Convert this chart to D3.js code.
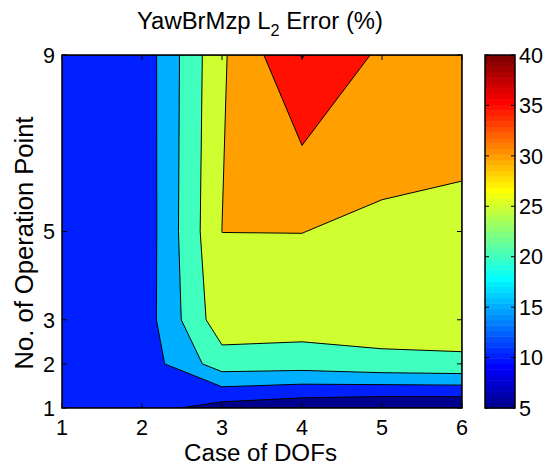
<!DOCTYPE html>
<html>
<head>
<meta charset="utf-8">
<script src="https://cdn.jsdelivr.net/npm/d3@7"></script>
<style>
  html, body { margin: 0; padding: 0; background: #fff; }
  svg { display: block; font-family: "Liberation Sans", Arial, Helvetica, sans-serif; }
</style>
</head>
<body>
<svg id="chart" width="546" height="466"></svg>
<script>
// ---- data ----
const dofCases = [1, 2, 3, 4, 5, 6];          // x: Case of DOFs
const opPoints = [1, 2, 3, 5, 9];             // y: No. of Operation Point
// L2 error (%) for each operation point row, over DOF cases 1..6
const errOP1 = [11.0, 11.86, 7.95, 6.3, 5.2, 5.1];
const errOP2 = [11.2, 12.0, 22.6, 22.4, 23.7, 24.2];
const errOP3 = [11.3, 12.1, 28.2, 27.6, 27.5, 27.1];
const errOP5 = [11.4, 11.6, 30.02, 30.05, 29.1, 28.8];
const errOP9 = [11.5, 11.8, 29.3, 40.2, 34.1, 33.0];
const levels = [5, 10, 15, 20, 25, 30, 35, 40];
const xTicks = [1, 2, 3, 4, 5, 6];
const yTicks = [1, 2, 3, 5, 9];
const cbTicks = [5, 10, 15, 20, 25, 30, 35, 40];
const cLim = [5, 40];

// ---- MATLAB jet colormap ----
function jet(m) {
  const n = Math.ceil(m / 4);
  const u = [];
  for (let i = 1; i <= n; i++) u.push(i / n);
  for (let i = 1; i < n; i++) u.push(1);
  for (let i = n; i >= 1; i--) u.push(i / n);
  const g0 = Math.ceil(n / 2) - (m % 4 === 1 ? 1 : 0);
  const cmap = [];
  for (let k = 0; k < m; k++) cmap.push([0, 0, 0]);
  for (let j = 0; j < u.length; j++) {
    const g = g0 + j + 1, r = g + n, b = g - n;
    if (r >= 1 && r <= m) cmap[r - 1][0] = u[j];
    if (g >= 1 && g <= m) cmap[g - 1][1] = u[j];
    if (b >= 1 && b <= m) cmap[b - 1][2] = u[j];
  }
  return cmap.map(c => d3.rgb(Math.round(c[0] * 255), Math.round(c[1] * 255), Math.round(c[2] * 255)).toString());
}
const cmap = jet(64);
function colorFor(v) {
  let idx = Math.floor((v - cLim[0]) / (cLim[1] - cLim[0]) * cmap.length);
  idx = Math.max(0, Math.min(cmap.length - 1, idx));
  return cmap[idx];
}

// fit a text element's font size so its rendered width matches a target width
function fitWidth(sel, target) {
  const node = sel.node();
  const fs = parseFloat(sel.attr("font-size"));
  const len = node.getComputedTextLength();
  if (len > 0) {
    const nf = fs * target / len;
    sel.attr("font-size", nf.toFixed(2));
    sel.selectAll("tspan.sub").attr("font-size", (nf * 0.68).toFixed(2));
  }
  return sel;
}

// ---- layout ----
const svg = d3.select("#chart");
const plot = { left: 62, top: 55, right: 462, bottom: 408 };
const x = d3.scaleLinear().domain([1, 6]).range([plot.left, plot.right]);
const y = d3.scaleLinear().domain([1, 9]).range([plot.bottom, plot.top]);

// ---- contour grid ----
const rows = [errOP1, errOP2, errOP3, errOP5, errOP9];
const nx = dofCases.length, ny = opPoints.length;
const grid = [];
rows.forEach(r => r.forEach(v => grid.push(v)));
const contours = d3.contours().size([nx, ny]).thresholds(levels)(grid);

// grid-space -> data-space (grid values sit at cell centres)
const ix = d3.scaleLinear().domain([0.5, nx - 0.5]).range([0, nx - 1]).clamp(true);
const iy = d3.scaleLinear().domain([0.5, ny - 0.5]).range([0, ny - 1]).clamp(true);
const xOfIdx = d3.scaleLinear().domain(d3.range(nx)).range(dofCases);
const yOfIdx = d3.scaleLinear().domain(d3.range(ny)).range(opPoints);
function toPx(p) {
  return [x(xOfIdx(ix(p[0]))), y(yOfIdx(iy(p[1])))];
}
function pathFor(mp) {
  let d = "";
  mp.coordinates.forEach(poly => {
    poly.forEach(ring => {
      d += "M" + ring.map(p => toPx(p).map(v => v.toFixed(2)).join(",")).join("L") + "Z";
    });
  });
  return d;
}

svg.append("defs").append("clipPath").attr("id", "clip")
  .append("rect").attr("x", plot.left).attr("y", plot.top)
  .attr("width", plot.right - plot.left).attr("height", plot.bottom - plot.top);

const gC = svg.append("g").attr("clip-path", "url(#clip)");
gC.selectAll("path").data(contours).enter().append("path")
  .attr("d", d => pathFor(d))
  .attr("fill", d => colorFor(d.value))
  .attr("fill-rule", "evenodd")
  .attr("stroke", "#000")
  .attr("stroke-width", 1)
  .attr("stroke-linejoin", "round");

// ---- axes ----
const tickLen = 5;
const tickFont = 20;
const axG = svg.append("g");
axG.append("rect").attr("x", plot.left).attr("y", plot.top)
  .attr("width", plot.right - plot.left).attr("height", plot.bottom - plot.top)
  .attr("fill", "none").attr("stroke", "#000").attr("stroke-width", 1.5);

// measure a reference tick label to size all tick labels consistently
const probe = svg.append("text").attr("font-size", tickFont).text("40");
const tickFs = tickFont * 24 / probe.node().getComputedTextLength();
probe.remove();

xTicks.forEach(t => {
  axG.append("line").attr("x1", x(t)).attr("x2", x(t)).attr("y1", plot.bottom).attr("y2", plot.bottom - tickLen).attr("stroke", "#000");
  axG.append("line").attr("x1", x(t)).attr("x2", x(t)).attr("y1", plot.top).attr("y2", plot.top + tickLen).attr("stroke", "#000");
  axG.append("text").attr("x", x(t)).attr("y", 435).attr("text-anchor", "middle")
    .attr("font-size", tickFs.toFixed(2)).text(t);
});
yTicks.forEach(t => {
  axG.append("line").attr("x1", plot.left).attr("x2", plot.left + tickLen).attr("y1", y(t)).attr("y2", y(t)).attr("stroke", "#000");
  axG.append("line").attr("x1", plot.right).attr("x2", plot.right - tickLen).attr("y1", y(t)).attr("y2", y(t)).attr("stroke", "#000");
  axG.append("text").attr("x", 55).attr("y", y(t)).attr("dy", "0.36em").attr("text-anchor", "end")
    .attr("font-size", tickFs.toFixed(2)).text(t);
});

// labels
fitWidth(svg.append("text").attr("x", 260.5).attr("y", 461).attr("text-anchor", "middle")
  .attr("font-size", 23).text("Case of DOFs"), 153);
fitWidth(svg.append("text").attr("transform", "translate(33,243) rotate(-90)").attr("text-anchor", "middle")
  .attr("font-size", 23).text("No. of Operation Point"), 253);
const title = svg.append("text").attr("x", 260).attr("y", 29).attr("text-anchor", "middle").attr("font-size", 22.5);
title.append("tspan").text("YawBrMzp L");
title.append("tspan").attr("class", "sub").attr("font-size", 15).attr("dy", 7).text("2");
title.append("tspan").attr("dy", -7).text(" Error (%)");
fitWidth(title, 246);

// ---- colorbar ----
const cb = { left: 485, right: 515, top: 55, bottom: 408 };
const cy = d3.scaleLinear().domain(cLim).range([cb.bottom, cb.top]);
const cbG = svg.append("g");
const step = (cLim[1] - cLim[0]) / cmap.length;
cbG.selectAll("rect.cell").data(cmap).enter().append("rect")
  .attr("class", "cell")
  .attr("x", cb.left).attr("width", cb.right - cb.left)
  .attr("y", (c, i) => cy(cLim[0] + (i + 1) * step))
  .attr("height", (c, i) => cy(cLim[0] + i * step) - cy(cLim[0] + (i + 1) * step) + 0.5)
  .attr("fill", c => c);
cbG.append("rect").attr("x", cb.left).attr("y", cb.top)
  .attr("width", cb.right - cb.left).attr("height", cb.bottom - cb.top)
  .attr("fill", "none").attr("stroke", "#000").attr("stroke-width", 1.5);
cbTicks.forEach(t => {
  cbG.append("line").attr("x1", cb.left).attr("x2", cb.left + 4).attr("y1", cy(t)).attr("y2", cy(t)).attr("stroke", "#000");
  cbG.append("line").attr("x1", cb.right).attr("x2", cb.right - 4).attr("y1", cy(t)).attr("y2", cy(t)).attr("stroke", "#000");
  cbG.append("text").attr("x", 519).attr("y", cy(t)).attr("dy", "0.36em")
    .attr("font-size", tickFs.toFixed(2)).text(t);
});
</script>
</body>
</html>
